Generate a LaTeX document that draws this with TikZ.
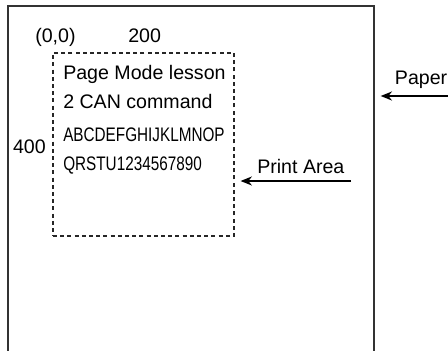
\documentclass[tikz,border=0pt]{standalone}
\usepackage{fontspec}
\setmainfont{Liberation Sans}
\newfontfamily\narrowfont[FakeStretch=0.78]{Liberation Sans}
\usetikzlibrary{arrows.meta,positioning}
\tikzset{
  paperline/.style={draw=black!80, line width=1.3pt},
  printbox/.style={
    rectangle, draw=black!85, line width=0.9pt, dash pattern=on 3pt off 2.4pt,
    minimum width=135.75pt, minimum height=137.25pt, inner sep=0pt
  },
  labeltext/.style={inner sep=0pt, anchor=base west, font=\fontsize{14.7}{17}\selectfont},
  narrowtext/.style={labeltext, font=\fontsize{14.7}{17}\selectfont\narrowfont},
  pointer/.style={-{Stealth[length=3mm, width=2.4mm]}, line width=1pt}
}
\begin{document}
\begin{tikzpicture}[x=0.75pt, y=-0.75pt]
\useasboundingbox (0,0) rectangle (448,350);
% paper sheet, open at the bottom
\draw[paperline] (8,351) -- (8,6) -- (374,6) -- (374,351);
\coordinate (paperedge) at (374,96);
\coordinate (papertail) at (449,96);

% print area
\node[printbox] (printarea) at (143.5,144.5) {};
\node[labeltext] (origin) at (35,42) {(0,0)};
\node[labeltext] (xmark) at (128,42) {200};
\node[labeltext, anchor=base east] (ymark) at (46,153) {400};

\node[labeltext] (line1) at (63,79) {Page Mode lesson};
\node[labeltext] (line2) at (63,108) {2 CAN command};
\node[narrowtext] (line3) at (63,141) {ABCDEFGHIJKLMNOP};
\node[narrowtext] (line4) at (63,170) {QRSTU1234567890};

% pointers
\node[labeltext, anchor=base east] (paperlabel) at (447.5,84) {Paper};
\node[labeltext] (arealabel) at (257,173) {Print Area};
\coordinate (areatail) at (351,181);
\draw[pointer, shorten >=5pt] (papertail) -- (paperedge);
\draw[pointer, shorten >=4.5pt] (areatail) -- (printarea.east |- areatail);
\end{tikzpicture}
\end{document}
